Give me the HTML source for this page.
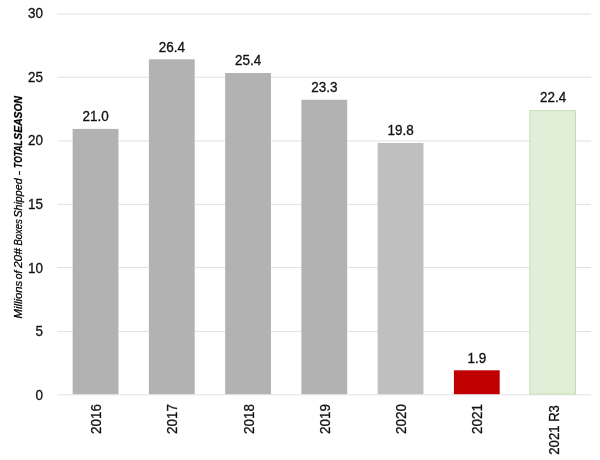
<!DOCTYPE html>
<html lang="en"><head><meta charset="utf-8"><title>Chart</title>
<style>
html,body{margin:0;padding:0;background:#fff;}
body{width:600px;height:460px;overflow:hidden;}
svg text{font-family:"Liberation Sans",sans-serif;fill:#111;stroke:#111;stroke-width:0.3px;}
.ax{font-size:13.9px;}
.xl{font-size:14.5px;}
.ttl{font-size:11px;font-style:italic;fill:#000;stroke:#000;stroke-width:0.25px}
</style></head><body>
<svg width="600" height="460" viewBox="0 0 600 460" style="display:block">
<rect width="600" height="460" fill="#fff"/>
<g stroke="#e1e1e1" stroke-width="1">
<line x1="57.3" x2="591" y1="394.80" y2="394.80" stroke="#e4e4e4"/>
<line x1="57.3" x2="591" y1="331.40" y2="331.40"/>
<line x1="57.3" x2="591" y1="267.50" y2="267.50"/>
<line x1="57.3" x2="591" y1="204.40" y2="204.40"/>
<line x1="57.3" x2="591" y1="141.00" y2="141.00"/>
<line x1="57.3" x2="591" y1="77.20" y2="77.20"/>
<line x1="57.3" x2="591" y1="14.00" y2="14.00"/>
</g>
<g class="ax" text-anchor="end">
<text transform="translate(43.1,399.70) scale(0.97,1)">0</text>
<text transform="translate(43.1,335.90) scale(0.97,1)">5</text>
<text transform="translate(43.1,272.60) scale(0.97,1)">10</text>
<text transform="translate(43.1,208.70) scale(0.97,1)">15</text>
<text transform="translate(43.1,145.20) scale(0.97,1)">20</text>
<text transform="translate(43.1,81.90) scale(0.97,1)">25</text>
<text transform="translate(43.1,18.30) scale(0.97,1)">30</text>
</g>
<rect x="72.65" y="128.90" width="45.80" height="265.30" fill="#b2b2b2"/>
<text transform="translate(95.55,121.20) scale(0.97,1)" text-anchor="middle" class="ax">21.0</text>
<text transform="translate(101.15,404.1) rotate(-90) scale(0.925,1)" text-anchor="end" class="xl">2016</text>
<rect x="148.90" y="59.30" width="45.80" height="334.90" fill="#b2b2b2"/>
<text transform="translate(171.80,51.60) scale(0.97,1)" text-anchor="middle" class="ax">26.4</text>
<text transform="translate(177.40,404.1) rotate(-90) scale(0.925,1)" text-anchor="end" class="xl">2017</text>
<rect x="225.15" y="73.05" width="45.80" height="321.15" fill="#b2b2b2"/>
<text transform="translate(248.05,65.35) scale(0.97,1)" text-anchor="middle" class="ax">25.4</text>
<text transform="translate(253.65,404.1) rotate(-90) scale(0.925,1)" text-anchor="end" class="xl">2018</text>
<rect x="301.40" y="99.75" width="45.80" height="294.45" fill="#b2b2b2"/>
<text transform="translate(324.30,92.05) scale(0.97,1)" text-anchor="middle" class="ax">23.3</text>
<text transform="translate(329.90,404.1) rotate(-90) scale(0.925,1)" text-anchor="end" class="xl">2019</text>
<rect x="377.65" y="143.00" width="45.80" height="251.20" fill="#bfbfbf"/>
<text transform="translate(400.55,135.30) scale(0.97,1)" text-anchor="middle" class="ax">19.8</text>
<text transform="translate(406.15,404.1) rotate(-90) scale(0.925,1)" text-anchor="end" class="xl">2020</text>
<rect x="453.90" y="370.30" width="45.80" height="23.90" fill="#c00000"/>
<text transform="translate(476.80,362.60) scale(0.97,1)" text-anchor="middle" class="ax">1.9</text>
<text transform="translate(482.40,404.1) rotate(-90) scale(0.925,1)" text-anchor="end" class="xl">2021</text>
<rect x="529.90" y="110.60" width="45.60" height="283.50" fill="#e1efd9" stroke="#c3dfb1" stroke-width="1"/>
<text transform="translate(553.05,102.40) scale(0.97,1)" text-anchor="middle" class="ax">22.4</text>
<text transform="translate(558.65,405.1) rotate(-90) scale(0.905,1)" text-anchor="end" class="xl">2021 R3</text>
<text class="ttl" transform="translate(22.2,0) rotate(-90)"><tspan x="-318.59" textLength="37.86" lengthAdjust="spacingAndGlyphs">Millions</tspan> <tspan x="-279.34" textLength="8.58" lengthAdjust="spacingAndGlyphs">of</tspan> <tspan x="-268.02" textLength="19.92" lengthAdjust="spacingAndGlyphs">20#</tspan> <tspan x="-245.62" textLength="26.5" lengthAdjust="spacingAndGlyphs">Boxes</tspan> <tspan x="-217.57" textLength="39.19" lengthAdjust="spacingAndGlyphs">Shipped</tspan> <tspan x="-175.52" textLength="4.72" lengthAdjust="spacingAndGlyphs">-</tspan> <tspan x="-167.92" font-weight="bold" textLength="27.61" lengthAdjust="spacingAndGlyphs">TOTAL</tspan> <tspan x="-139.63" font-weight="bold" textLength="43.65" lengthAdjust="spacingAndGlyphs">SEASON</tspan></text>
</svg>
</body></html>
